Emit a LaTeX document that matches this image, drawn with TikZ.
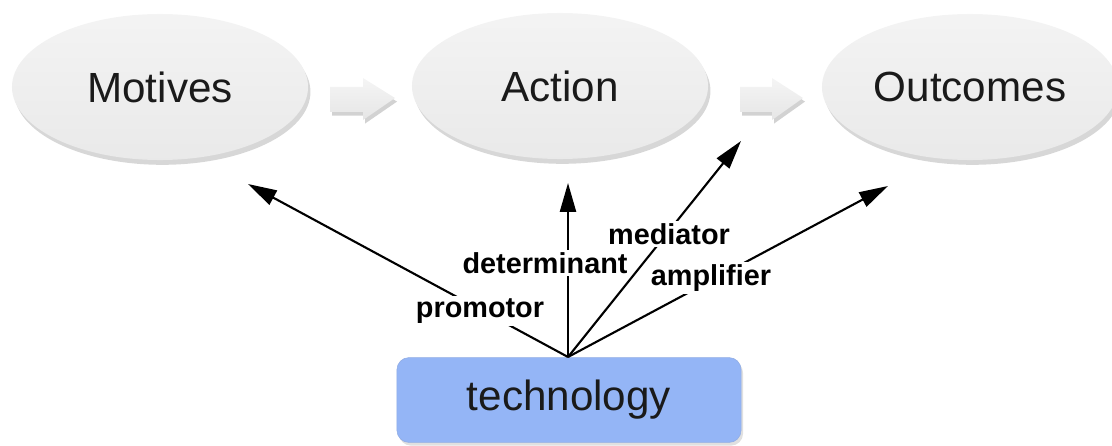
\documentclass[tikz,border=0pt]{standalone}
\usepackage{fontspec}
\setmainfont{Liberation Sans}
\usetikzlibrary{shapes.geometric,shadows,arrows.meta}
\definecolor{techblue}{HTML}{94B5F6}
\definecolor{txt}{HTML}{1A1A1A}
\tikzset{
  oval/.style={ellipse, minimum width=7.4cm, minimum height=3.65cm, inner sep=0pt,
    top color=gray!9, bottom color=gray!17, draw=none,
    drop shadow={shadow xshift=0.6mm, shadow yshift=-1.2mm, opacity=0.45, fill=gray!70},
    text=txt, font=\fontsize{30}{36}\selectfont},
  blockarrow/.style={top color=gray!8, bottom color=gray!20, draw=none,
    drop shadow={shadow xshift=0.5mm, shadow yshift=-0.9mm, opacity=0.5, fill=gray!70}},
  techbox/.style={rectangle, rounded corners=0.3cm, minimum width=8.6cm, minimum height=2.12cm,
    fill=techblue, draw=techblue!85!gray, line width=0.4pt,
    drop shadow={shadow xshift=0.5mm, shadow yshift=-0.8mm, opacity=0.35, fill=gray!70},
    text=txt, font=\fontsize{30}{36}\selectfont},
  link/.style={-{Triangle[length=0.72cm, width=0.4cm]}, line width=1.5pt, black},
  lbl/.style={fill=white, inner sep=2pt, font=\fontsize{20.5}{24}\selectfont\bfseries, text=black}
}
\begin{document}
\begin{tikzpicture}[x=0.025cm, y=-0.025cm]
\useasboundingbox (0,0) rectangle (1112,446);
\node[oval] (motives) at (160,87) {Motives};
\node[oval] (action) at (560,86) {Action};
\node[oval] (outcomes) at (970,87) {Outcomes};
\path[blockarrow] (330,87) -- (363,87) -- (363,78) -- (395,98) -- (363,120) -- (363,112) -- (330,112) -- cycle;
\path[blockarrow] (740,87) -- (772,87) -- (772,78) -- (803,98) -- (772,120) -- (772,112) -- (740,112) -- cycle;
\node[techbox] (tech) at (569,400) {technology};
\coordinate (apex) at (568,357);
\coordinate (tp) at (248,184);
\coordinate (td) at (568,183);
\coordinate (tm) at (741,141);
\coordinate (ta) at (888,186);
\draw[link] (apex) -- (tp);
\draw[link] (apex) -- (td);
\draw[link] (apex) -- (tm);
\draw[link] (apex) -- (ta);
\node[lbl] (lp) at (480,311) {promotor};
\node[lbl] (ld) at (545,263) {determinant};
\node[lbl] (lm) at (669,234) {mediator};
\node[lbl] (la) at (711,278) {amplifier};
\end{tikzpicture}
\end{document}
